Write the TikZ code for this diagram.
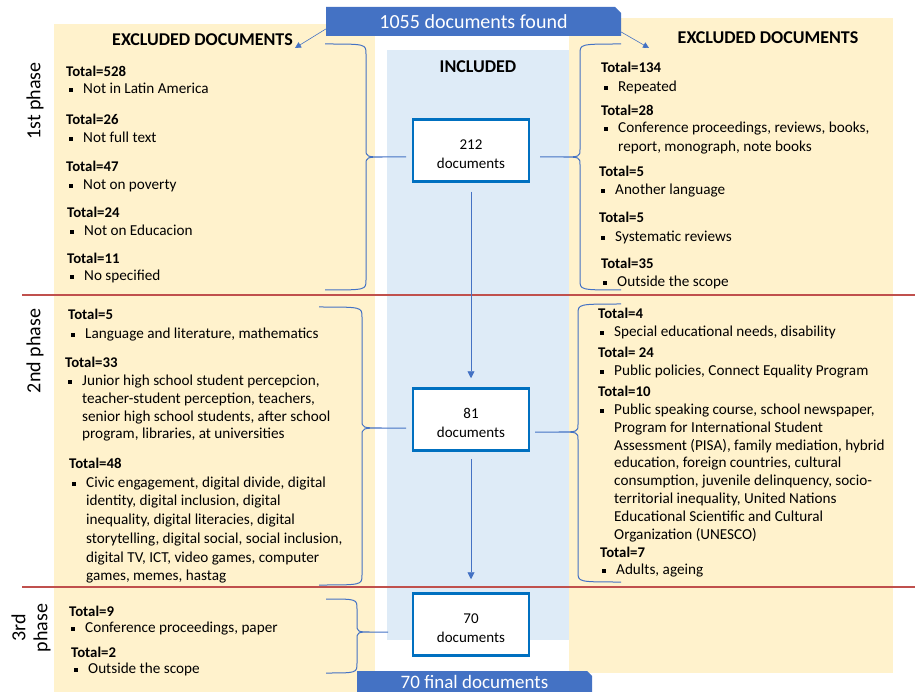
\documentclass[tikz,border=0pt]{standalone}
\usepackage{fontspec}
\setmainfont{Carlito}
\usetikzlibrary{arrows.meta}
\definecolor{panelY}{HTML}{FFF2CC}
\definecolor{panelB}{HTML}{DEEBF7}
\definecolor{bannerB}{HTML}{4472C4}
\definecolor{boxB}{HTML}{0070C0}
\definecolor{braceB}{HTML}{4472C4}
\definecolor{redL}{HTML}{C0504D}
\tikzset{
  txt/.style={inner sep=0pt, anchor=base west, font=\fontsize{15.2}{17}\selectfont},
  tot/.style={inner sep=0pt, anchor=base west, font=\fontsize{14.8}{17}\selectfont\bfseries},
  head/.style={inner sep=0pt, font=\fontsize{18}{20}\selectfont\bfseries},
  phase/.style={inner sep=0pt, rotate=90, align=center, font=\fontsize{20}{22}\selectfont},
  brc/.style={draw=braceB, line width=1pt},
  redline/.style={draw=redL, line width=1.5pt},
  docbox/.style={draw=boxB, line width=2.5pt, fill=white, align=center, inner sep=0pt,
    minimum width=116pt, minimum height=62pt, font=\fontsize{15}{19}\selectfont},
  bantxt/.style={inner sep=0pt, text=white},
  arr/.style={draw=bannerB, line width=0.9pt, -{Triangle[length=7pt,width=7pt]}},
  thinarr/.style={draw=bannerB, line width=0.6pt, -{Triangle[length=6pt,width=6pt]}}
}
\newcommand{\totline}[4]{\node[tot] (#1) at (#2,#3) {#4};}
\newcommand{\bulline}[4]{\fill (#2,#3-1.8) rectangle (#2+4,#3-5.8); \node[txt] (#1) at (#2+14,#3) {#4};}
\newcommand{\contline}[4]{\node[txt] (#1) at (#2,#3) {#4};}
\newcommand{\cbrace}[6]{%
  \pgfmathsetmacro\xcusp{(#4+#6)/2}%
  \draw[brc] (#1,#2) .. controls (#4,#2) .. (#4,#2+10) -- (#4,#5-8) .. controls (#4,#5) .. (\xcusp,#5) -- (#6,#5)
    (\xcusp,#5) .. controls (#4,#5) .. (#4,#5+8) -- (#4,#3-10) .. controls (#4,#3) .. (#1,#3);}
\newcommand{\boxstrut}{\rule{0pt}{16.5pt}}
\begin{document}
\begin{tikzpicture}[x=1pt,y=-1pt]
\useasboundingbox (0,0) rectangle (915,692);
% panels
\fill[panelY] (54,24) rectangle (375,692);
\fill[panelY] (569,18) rectangle (893,673);
\fill[panelB] (387,50) rectangle (569,640);
% phase separators
\draw[redline] (22,295) -- (915,295);
\draw[redline] (22,587) -- (915,587);
% phase labels
\node[phase] (ph1) at (35,101) {1st phase};
\node[phase] (ph2) at (35,351) {2nd phase};
\node[phase] (ph3) at (31,628) {3rd\\phase};
% top banner
\fill[bannerB] (326,7) -- (615,7) -- (621,13) -- (621,36) -- (326,36) -- cycle;
\node[bantxt, minimum width=295pt, minimum height=29pt, font=\fontsize{20}{22}\selectfont] (ban1) at (473.5,22) {1055 documents found};
% bottom banner
\fill[bannerB] (357,671) -- (587,671) -- (592,676) -- (592,692) -- (357,692) -- cycle;
\node[bantxt, font=\fontsize{19}{21}\selectfont] (ban2) at (474.5,681.5) {70 final documents};
% headings
\node[head] (exL) at (202.5,40) {EXCLUDED DOCUMENTS};
\node[head] (exR) at (768,38) {EXCLUDED DOCUMENTS};
\node[head] (inc) at (478,67) {INCLUDED};
\coordinate (exLtip) at (295,48);
\coordinate (exRtip) at (649,48);
\draw[thinarr] ([yshift=-7pt]ban1.west) -- (exLtip);
\draw[thinarr] ([yshift=-10pt]ban1.east) -- (exRtip);
% boxes
\node[docbox] (box212) at (471,150.5) {\boxstrut 212\\documents};
\node[docbox] (box81) at (471,419.5) {\boxstrut 81\\documents};
\node[docbox] (box70) at (471,624.5) {\boxstrut 70\\documents};
\draw[arr] ([yshift=-9pt]box212.south) -- ([yshift=9pt]box81.north);
\draw[arr] ([yshift=-7pt]box81.south) -- ([yshift=13pt]box70.north);
% braces
\cbrace{325}{44}{290}{366}{157}{406}
\cbrace{621}{44}{290}{580}{157}{540}
\cbrace{319}{307}{585}{362}{428}{406}
\cbrace{621}{304}{582}{578}{432}{535}
\cbrace{326}{599}{673}{357}{632}{388}
% ---- 1st phase left
\totline{a1}{66}{76.5}{Total=528}
\bulline{a2}{69}{93.5}{Not in Latin America}
\totline{a3}{66}{124.5}{Total=26}
\bulline{a4}{69}{142.5}{Not full text}
\totline{a5}{66}{171.5}{Total=47}
\bulline{a6}{69}{189.5}{Not on poverty}
\totline{a7}{67}{217.5}{Total=24}
\bulline{a8}{70}{235.5}{Not on Educacion}
\totline{a9}{67}{263.5}{Total=11}
\bulline{a10}{70}{280.5}{No specified}
% ---- 1st phase right
\totline{b1}{601}{72.5}{Total=134}
\bulline{b2}{604}{91.5}{Repeated}
\totline{b3}{601}{115.5}{Total=28}
\bulline{b4}{604}{132.5}{Conference proceedings, reviews, books,}
\contline{b5}{618}{151.5}{report, monograph, note books}
\totline{b6}{599}{176.5}{Total=5}
\bulline{b7}{601}{194.5}{Another language}
\totline{b8}{599}{222.5}{Total=5}
\bulline{b9}{601}{241.5}{Systematic reviews}
\totline{b10}{601}{268.5}{Total=35}
\bulline{b11}{603}{286.5}{Outside the scope}
% ---- 2nd phase left
\totline{c1}{68}{319.5}{Total=5}
\bulline{c2}{71}{338.5}{Language and literature, mathematics}
\totline{c3}{65}{367.5}{Total=33}
\bulline{c4}{68}{385.5}{Junior high school student percepcion,}
\contline{c5}{82}{403.5}{teacher-student perception, teachers,}
\contline{c6}{82}{421.5}{senior high school students, after school}
\contline{c7}{82}{438.5}{program, libraries, at universities}
\totline{c8}{69}{468.5}{Total=48}
\bulline{c9}{72}{487.5}{Civic engagement, digital divide, digital}
\contline{c10}{86}{505.5}{identity, digital inclusion, digital}
\contline{c11}{86}{524.5}{inequality, digital literacies, digital}
\contline{c12}{86}{543.5}{storytelling, digital social, social inclusion,}
\contline{c13}{86}{562.5}{digital TV, ICT, video games, computer}
\contline{c14}{86}{580.5}{games, memes, hastag}
% ---- 2nd phase right
\totline{d1}{598}{318.5}{Total=4}
\bulline{d2}{600}{336.5}{Special educational needs, disability}
\totline{d3}{598}{357.5}{Total= 24}
\bulline{d4}{600}{375.5}{Public policies, Connect Equality Program}
\totline{d5}{598}{396.5}{Total=10}
\bulline{d6}{600}{414.5}{Public speaking course, school newspaper,}
\contline{d7}{614}{432.5}{Program for International Student}
\contline{d8}{614}{450.5}{Assessment (PISA), family mediation, hybrid}
\contline{d9}{614}{467.5}{education, foreign countries, cultural}
\contline{d10}{614}{485.5}{consumption, juvenile delinquency, socio-}
\contline{d11}{614}{503.5}{territorial inequality, United Nations}
\contline{d12}{614}{521.5}{Educational Scientific and Cultural}
\contline{d13}{614}{539.5}{Organization (UNESCO)}
\totline{d14}{600}{557.5}{Total=7}
\bulline{d15}{602}{574.5}{Adults, ageing}
% ---- 3rd phase left
\totline{e1}{69}{616.5}{Total=9}
\bulline{e2}{71}{632.5}{Conference proceedings, paper}
\totline{e3}{71}{657.5}{Total=2}
\bulline{e4}{74}{673.5}{Outside the scope}
\end{tikzpicture}
\end{document}
